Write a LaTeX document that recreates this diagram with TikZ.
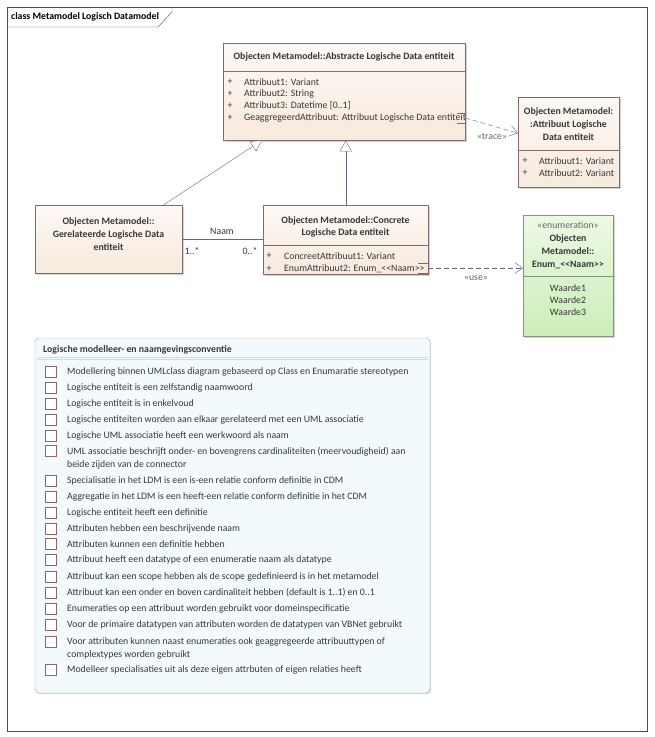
\documentclass[tikz,border=0pt]{standalone}
\usepackage{fontspec}
\setmainfont{Carlito}
\usetikzlibrary{positioning,shadows,arrows.meta}

\definecolor{textgray}{RGB}{55,55,55}
\definecolor{boxline}{RGB}{135,105,105}
\definecolor{classtop}{RGB}{253,249,245}
\definecolor{classbottom}{RGB}{247,233,221}
\definecolor{enumtop}{RGB}{236,249,228}
\definecolor{enumbottom}{RGB}{204,238,184}
\definecolor{enumline}{RGB}{130,150,130}
\definecolor{connector}{RGB}{95,105,135}
\definecolor{notefill}{RGB}{243,250,253}
\definecolor{noteline}{RGB}{160,172,182}
\definecolor{notesep}{RGB}{190,225,240}

\begin{document}
\begin{tikzpicture}[x=1pt,y=-1pt,
    every node/.style={font=\fontsize{9.8}{11}\selectfont, text=textgray, inner sep=0pt},
    classbox/.style={draw=boxline, top color=classtop, bottom color=classbottom, anchor=north west,
        drop shadow={shadow xshift=2pt, shadow yshift=-2pt, opacity=0.35}},
    enumbox/.style={classbox, draw=enumline, top color=enumtop, bottom color=enumbottom},
    classtitle/.style={font=\fontsize{9.8}{13}\selectfont\bfseries, align=center},
    attr/.style={anchor=west},
    sep/.style={draw=boxline},
    gen/.style={draw=connector, -{Triangle[open, length=11pt, width=12pt, fill=white]}},
    dep/.style={draw=connector, dashed, dash pattern=on 5pt off 3pt, -{Straight Barb[length=8pt, width=11pt]}},
    checkbox/.style={draw=boxline, fill=white, minimum size=11pt},
    item/.style={anchor=west, align=left, font=\fontsize{9.8}{13}\selectfont}]
    \useasboundingbox (0,0) rectangle (654,737);

    % Diagram frame
    \draw[black!70] (7,7) rectangle (647,731);
    \draw[black!70] (7,27) -- (158,27) -- (172,12) -- (172,7);
    \node[anchor=west, font=\fontsize{9.8}{11}\selectfont\bfseries, text=black] (frametitle) at (11,17) {class Metamodel Logisch Datamodel};

    % Abstracte Logische Data entiteit
    \node[classbox, minimum width=242pt, minimum height=97pt] (abstract) at (223,43) {};
    \node[classtitle] (abstracttitle) at (344,57) {Objecten Metamodel::Abstracte Logische Data entiteit};
    \draw[sep] (abstract.west |- 0,71) -- (abstract.east |- 0,71);
    \foreach \y/\t [count=\i] in {82/Attribuut1: Variant, 94/Attribuut2: String, 106/{Attribuut3: Datetime [0..1]}, 118/GeaggregeerdAttribuut: Attribuut Logische Data entiteit} {
        \node (abstractplus\i) at (230,\y) {+};
        \node[attr] (abstractattr\i) at (244,\y) {\t};
    }
    \draw[boxline] (457,113) -- (465,113) -- (465,123) -- (457,123);
    \coordinate (geagg) at (465,118);

    % Attribuut Logische Data entiteit
    \node[classbox, minimum width=101pt, minimum height=90pt] (attribuut) at (518,97) {};
    \node[classtitle] (attribuuttitle) at (568.5,124) {Objecten Metamodel:\\:Attribuut Logische\\Data entiteit};
    \draw[sep] (attribuut.west |- 0,150) -- (attribuut.east |- 0,150);
    \foreach \y/\t [count=\i] in {161/Attribuut1: Variant, 173/Attribuut2: Variant} {
        \node (attribuutplus\i) at (525,\y) {+};
        \node[attr] (attribuutattr\i) at (539,\y) {\t};
    }

    % Gerelateerde Logische Data entiteit
    \node[classbox, minimum width=147pt, minimum height=68pt] (gerelateerd) at (35,205) {};
    \node[classtitle] (gerelateerdtitle) at (108.5,234) {Objecten Metamodel::\\Gerelateerde Logische Data\\entiteit};

    % Concrete Logische Data entiteit
    \node[classbox, minimum width=165pt, minimum height=69pt] (concrete) at (263,205) {};
    \node[classtitle, font=\fontsize{9.8}{12.5}\selectfont\bfseries] (concretetitle) at (345.5,227) {Objecten Metamodel::Concrete\\Logische Data entiteit};
    \draw[sep] (concrete.west |- 0,245) -- (concrete.east |- 0,245);
    \foreach \y/\t [count=\i] in {256/ConcreetAttribuut1: Variant, 269/EnumAttribuut2: Enum\_<{}<Naam>{}>} {
        \node (concreteplus\i) at (269,\y) {+};
        \node[attr] (concreteattr\i) at (284,\y) {\t};
    }
    \draw[boxline] (418,263) -- (428,263) -- (428,273) -- (418,273);
    \coordinate (enumattr) at (428,268);

    % Enumeratie
    \node[enumbox, minimum width=90pt, minimum height=121pt] (enum) at (523,215) {};
    \node[classtitle] (enumtitle) at (568,245.5) {{\mdseries\textcolor{black!60}{«enumeration»}}\\Objecten\\Metamodel::\\Enum\_<{}<Naam>{}>};
    \draw[draw=enumline] (enum.west |- 0,276) -- (enum.east |- 0,276);
    \node[align=center, font=\fontsize{9.8}{12}\selectfont] (enumvalues) at (568,300) {Waarde1\\Waarde2\\Waarde3};

    % Connectoren
    \draw[gen] ([xshift=-19pt]gerelateerd.north east) -- ([xshift=39pt]abstract.south west);
    \draw[gen] (concrete.north) -- (concrete.north |- abstract.south);
    \draw[connector] (gerelateerd.east) -- (gerelateerd.east -| concrete.west);
    \node (naam) at (222,231) {Naam};
    \node (multlinks) at (192,251) {1..*};
    \node (multrechts) at (250,251) {0..*};
    \draw[dep] (geagg) -- ([yshift=9pt]attribuut.west);
    \node[text=black!60] (trace) at (492,136) {«trace»};
    \draw[dep] (enumattr) -- (enumattr -| enum.west);
    \node[text=black!60] (use) at (476,278) {«use»};

    % Modelleerconventies
    \draw[draw=noteline, fill=notefill, rounded corners=4pt,
        drop shadow={shadow xshift=1pt, shadow yshift=-1pt, opacity=0.3}] (35,338) rectangle (430,693);
    \node[anchor=west, font=\fontsize{9.8}{11}\selectfont\bfseries] (notetitle) at (43,350) {Logische modelleer- en naamgevingsconventie};
    \draw[notesep] (37,357) -- (428,357);
    \draw[notesep] (37,359.5) -- (428,359.5);
    \foreach \y/\dy/\t [count=\i] in {
        372/0/Modellering binnen UMLclass diagram gebaseerd op Class en Enumaratie stereotypen,
        388/0/Logische entiteit is een zelfstandig naamwoord,
        404/0/Logische entiteit is in enkelvoud,
        420/0/Logische entiteiten worden aan elkaar gerelateerd met een UML associatie,
        436/0/Logische UML associatie heeft een werkwoord als naam,
        451/7/{UML associatie beschrijft onder- en bovengrens cardinaliteiten (meervoudigheid) aan\\beide zijden van de connector},
        481/0/Specialisatie in het LDM is een is-een relatie conform definitie in CDM,
        497/0/Aggregatie in het LDM is een heeft-een relatie conform definitie in het CDM,
        513/0/Logische entiteit heeft een definitie,
        529/0/Attributen hebben een beschrijvende naam,
        544/0/Attributen kunnen een definitie hebben,
        560/0/Attribuut heeft een datatype of een enumeratie naam als datatype,
        577/0/Attribuut kan een scope hebben als de scope gedefinieerd is in het metamodel,
        593/0/{Attribuut kan een onder en boven cardinaliteit hebben (default is 1..1) en 0..1},
        609/0/Enumeraties op een attribuut worden gebruikt voor domeinspecificatie,
        625/0/Voor de primaire datatypen van attributen worden de datatypen van VBNet gebruikt,
        642/6.5/{Voor attributen kunnen naast enumeraties ook geaggregeerde attribuuttypen of\\complextypes worden gebruikt},
        670/0/Modelleer specialisaties uit als deze eigen attrbuten of eigen relaties heeft} {
        \node[checkbox] (check\i) at (51,\y) {};
        \node[item] (item\i) at (67,\y+\dy) {\t};
    }
\end{tikzpicture}
\end{document}
